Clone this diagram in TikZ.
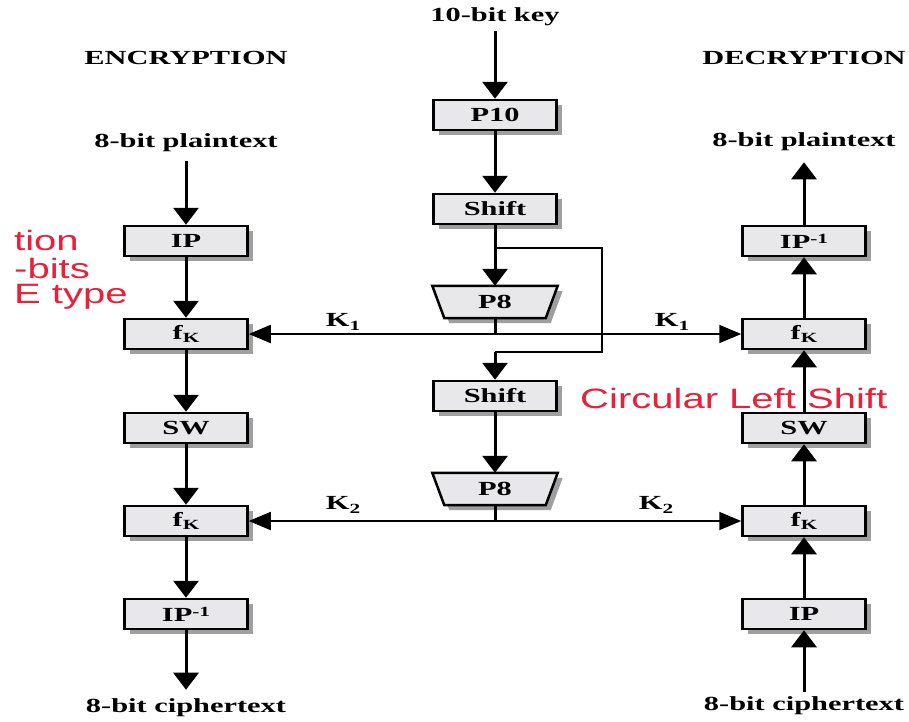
\documentclass[tikz,border=0pt]{standalone}
\usepackage{fontspec}
\usetikzlibrary{arrows.meta,shadows,backgrounds}
\newfontfamily\tbf{Liberation Serif}[FakeStretch=1.52]
\newfontfamily\redsans{Liberation Sans}[FakeStretch=1.43]
\definecolor{redtxt}{RGB}{232,32,58}
\definecolor{boxfill}{RGB}{232,232,234}
\newcommand\lowsub[1]{\raisebox{-0.4ex}{\fontsize{14}{14}\selectfont #1}}
\newcommand\highsup[1]{\raisebox{0.55ex}{\fontsize{14}{14}\selectfont #1}}
\begin{document}
\begin{tikzpicture}[x=1pt,y=-1pt,
  lbl/.style={font=\tbf\bfseries\fontsize{20}{23}\selectfont, inner sep=1pt},
  shadowed/.style={drop shadow={shadow xshift=5pt, shadow yshift=-5pt, fill=gray!75, opacity=1}},
  box/.style={draw=black, line width=2.5pt, fill=boxfill, minimum width=123pt, minimum height=30pt,
    inner sep=0pt, font=\tbf\bfseries\fontsize{20}{23}\selectfont, shadowed},
  trapnode/.style={minimum width=125pt, minimum height=32pt, inner sep=0pt,
    font=\tbf\bfseries\fontsize{20}{23}\selectfont},
  trapshape/.style={draw=black, line width=2.5pt, fill=boxfill, line join=miter, shadowed},
  arr/.style={line width=3pt, -{Triangle[width=25pt,length=17pt]}},
  karr/.style={line width=1.8pt, -{Triangle[width=18pt,length=22pt]}},
  thinline/.style={line width=1.6pt},
  stem/.style={line width=3pt},
  redlbl/.style={font=\redsans\fontsize{28}{30}\selectfont, text=redtxt, inner sep=0pt}]
\useasboundingbox (0,0) rectangle (909,721);

% centre column
\node[lbl] (key) at (495,17) {10-bit key};
\node[box] (p10) at (495,115) {P10};
\node[box] (sh1) at (495,209) {Shift};
\node[trapnode] (p8a) at (495,302) {P8};
\node[box] (sh2) at (495,396) {Shift};
\node[trapnode] (p8b) at (495,489) {P8};
\begin{scope}[on background layer]
  \fill[white] (0,0) rectangle (909,721);
  \path[trapshape] (p8a.north west) -- (p8a.north east) -- ([xshift=-12pt]p8a.south east)
     -- ([xshift=12pt]p8a.south west) -- cycle;
  \path[trapshape] (p8b.north west) -- (p8b.north east) -- ([xshift=-12pt]p8b.south east)
     -- ([xshift=12pt]p8b.south west) -- cycle;
\end{scope}
\coordinate (br) at (495,248);
\coordinate (bc1) at (602,248);
\coordinate (bc2) at (602,352);
\coordinate (bc3) at (495,352);
\coordinate (k1) at (495,334);
\coordinate (k2) at (495,521);

% left column
\node[lbl] (enc) at (186,58) {ENCRYPTION};
\node[lbl] (lpt) at (186,143) {8-bit plaintext};
\node[box] (lip) at (186,241) {IP};
\node[box] (lfk1) at (186,334) {f\lowsub{K}};
\node[box] (lsw) at (186,428) {SW};
\node[box] (lfk2) at (186,521) {f\lowsub{K}};
\node[box] (lipi) at (186,614) {IP\highsup{-1}};
\node[lbl] (lct) at (186,708) {8-bit ciphertext};

% right column
\node[lbl] (dec) at (804,58) {DECRYPTION};
\node[lbl] (rpt) at (804,142) {8-bit plaintext};
\node[box] (ripi) at (804,241) {IP\highsup{-1}};
\node[box] (rfk1) at (804,334) {f\lowsub{K}};
\node[box] (rsw) at (804,428) {SW};
\node[box] (rfk2) at (804,521) {f\lowsub{K}};
\node[box] (rip) at (804,614) {IP};
\node[lbl] (rct) at (804,706) {8-bit ciphertext};

% key labels
\node[lbl] (k1l) at (343,322) {K\lowsub{1}};
\node[lbl] (k1r) at (672,322) {K\lowsub{1}};
\node[lbl] (k2l) at (343,505) {K\lowsub{2}};
\node[lbl] (k2r) at (656,505) {K\lowsub{2}};

% red annotations
\node[redlbl, anchor=west] (r1) at (14,240) {tion};
\node[redlbl, anchor=west] (r2) at (14,268) {-bits};
\node[redlbl, anchor=west] (r3) at (14,297) {E type};
\node[redlbl, anchor=west] (r4) at (580,398) {Circular Left Shift};

% centre connectors
\draw[arr, shorten <=4pt] (key) -- (p10);
\draw[arr] (p10) -- (sh1);
\draw[arr] (sh1) -- (p8a);
\draw[thinline] (br) -- (bc1) -- (bc2) -- (bc3);
\draw[arr] (bc3) -- (sh2);
\draw[arr] (sh2) -- (p8b);
\draw[stem] (p8a) -- (k1);
\draw[stem] (p8b) -- (k2);
\draw[karr] (k1) -- (lfk1);
\draw[karr] (k1) -- (rfk1);
\draw[karr] (k2) -- (lfk2);
\draw[karr] (k2) -- (rfk2);

% left connectors
\draw[arr, shorten <=8pt] (lpt) -- (lip);
\draw[arr] (lip) -- (lfk1);
\draw[arr] (lfk1) -- (lsw);
\draw[arr] (lsw) -- (lfk2);
\draw[arr] (lfk2) -- (lipi);
\draw[arr, shorten >=8pt] (lipi) -- (lct);

% right connectors
\draw[arr, shorten <=4pt] (rct) -- (rip);
\draw[arr] (rip) -- (rfk2);
\draw[arr] (rfk2) -- (rsw);
\draw[arr] (rsw) -- (rfk1);
\draw[arr] (rfk1) -- (ripi);
\draw[arr, shorten >=10pt] (ripi) -- (rpt);
\end{tikzpicture}
\end{document}
